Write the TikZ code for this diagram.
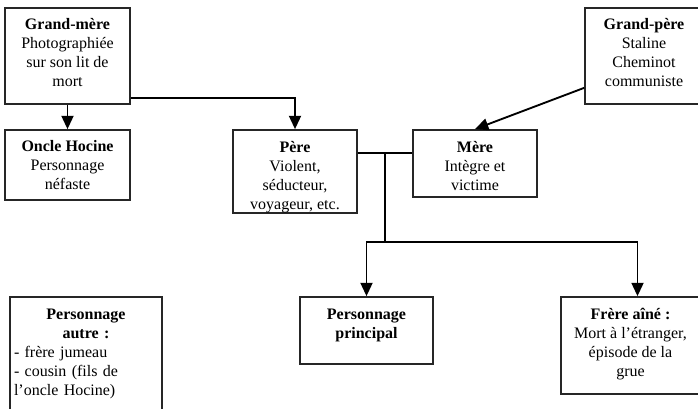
\documentclass[tikz,border=0pt]{standalone}
\usepackage{fontspec}
\setmainfont{Liberation Serif}
\usetikzlibrary{positioning,calc,arrows.meta}

\begin{document}
\begin{tikzpicture}[x=0.75pt,y=-0.75pt,
  box/.style={draw=black!85,line width=1.3pt,rectangle,inner sep=0pt},
  txt/.style={inner sep=0pt,align=center,font=\fontsize{12}{14.3}\selectfont},
  conn/.style={line width=1.4pt,-{Triangle[width=9pt,length=10pt]}},
  link/.style={line width=1.3pt}]
\useasboundingbox (0,0) rectangle (698,408);
\node[box,minimum width=93.75pt,minimum height=72pt] (gm) at (67.5,56) {};
\node[txt,below=6.5pt of gm.north] (gmtext) {\strut\textbf{Grand-mère}\\Photographiée\\sur son lit de\\mort};
\node[box,minimum width=93.75pt,minimum height=52.5pt] (oh) at (67.5,165) {};
\node[txt,below=6.5pt of oh.north] (ohtext) {\strut\textbf{Oncle Hocine}\\Personnage\\néfaste};
\node[box,minimum width=93pt,minimum height=62.25pt] (pere) at (295,171.5) {};
\node[txt,below=7pt of pere.north] (peretext) {\strut\textbf{Père}\\Violent,\\séducteur,\\voyageur, etc.};
\node[box,minimum width=93pt,minimum height=50.25pt] (mere) at (475,163.5) {};
\node[txt,below=7pt of mere.north] (meretext) {\strut\textbf{Mère}\\Intègre et\\victime};
\node[box,minimum width=88.5pt,minimum height=72pt] (gp) at (644,56) {};
\node[txt,below=6.5pt of gp.north] (gptext) {\strut\textbf{Grand-père}\\Staline\\Cheminot\\communiste};
\node[box,minimum width=114pt,minimum height=96pt] (pa) at (86,361) {};
\node[txt,below=7pt of pa.north,text width=108pt,align=left] (patext) {{\centering\strut\textbf{Personnage}\\\textbf{autre :}\par}- frère jumeau\\- cousin (fils de\\l’oncle Hocine)};
\node[box,minimum width=99.75pt,minimum height=50.25pt] (pp) at (366.5,330.5) {};
\node[txt,below=7pt of pp.north] (pptext) {\strut\textbf{Personnage}\\\textbf{principal}};
\node[box,minimum width=104.25pt,minimum height=72.75pt] (fa) at (630.5,345.5) {};
\node[txt,below=7pt of fa.north] (fatext) {\strut\textbf{Frère aîné :}\\Mort à l’étranger,\\épisode de la\\grue};
\coordinate (junc) at (385,153);
\coordinate (split) at (385,242);
\draw[conn] (gm.south) -- (oh.north);
\draw[conn] ($(gm.south east)+(0,-7)$) -| (pere.north);
\draw[conn] ($(gp.south west)+(0,-17)$) -- (mere.north);
\draw[link] (pere.east |- junc) -- (mere.west |- junc);
\draw[link] (junc) -- (split);
\draw[conn] (split) -| (pp.north);
\draw[conn] (split) -| ($(fa.north)+(7,0)$);
\end{tikzpicture}
\end{document}
